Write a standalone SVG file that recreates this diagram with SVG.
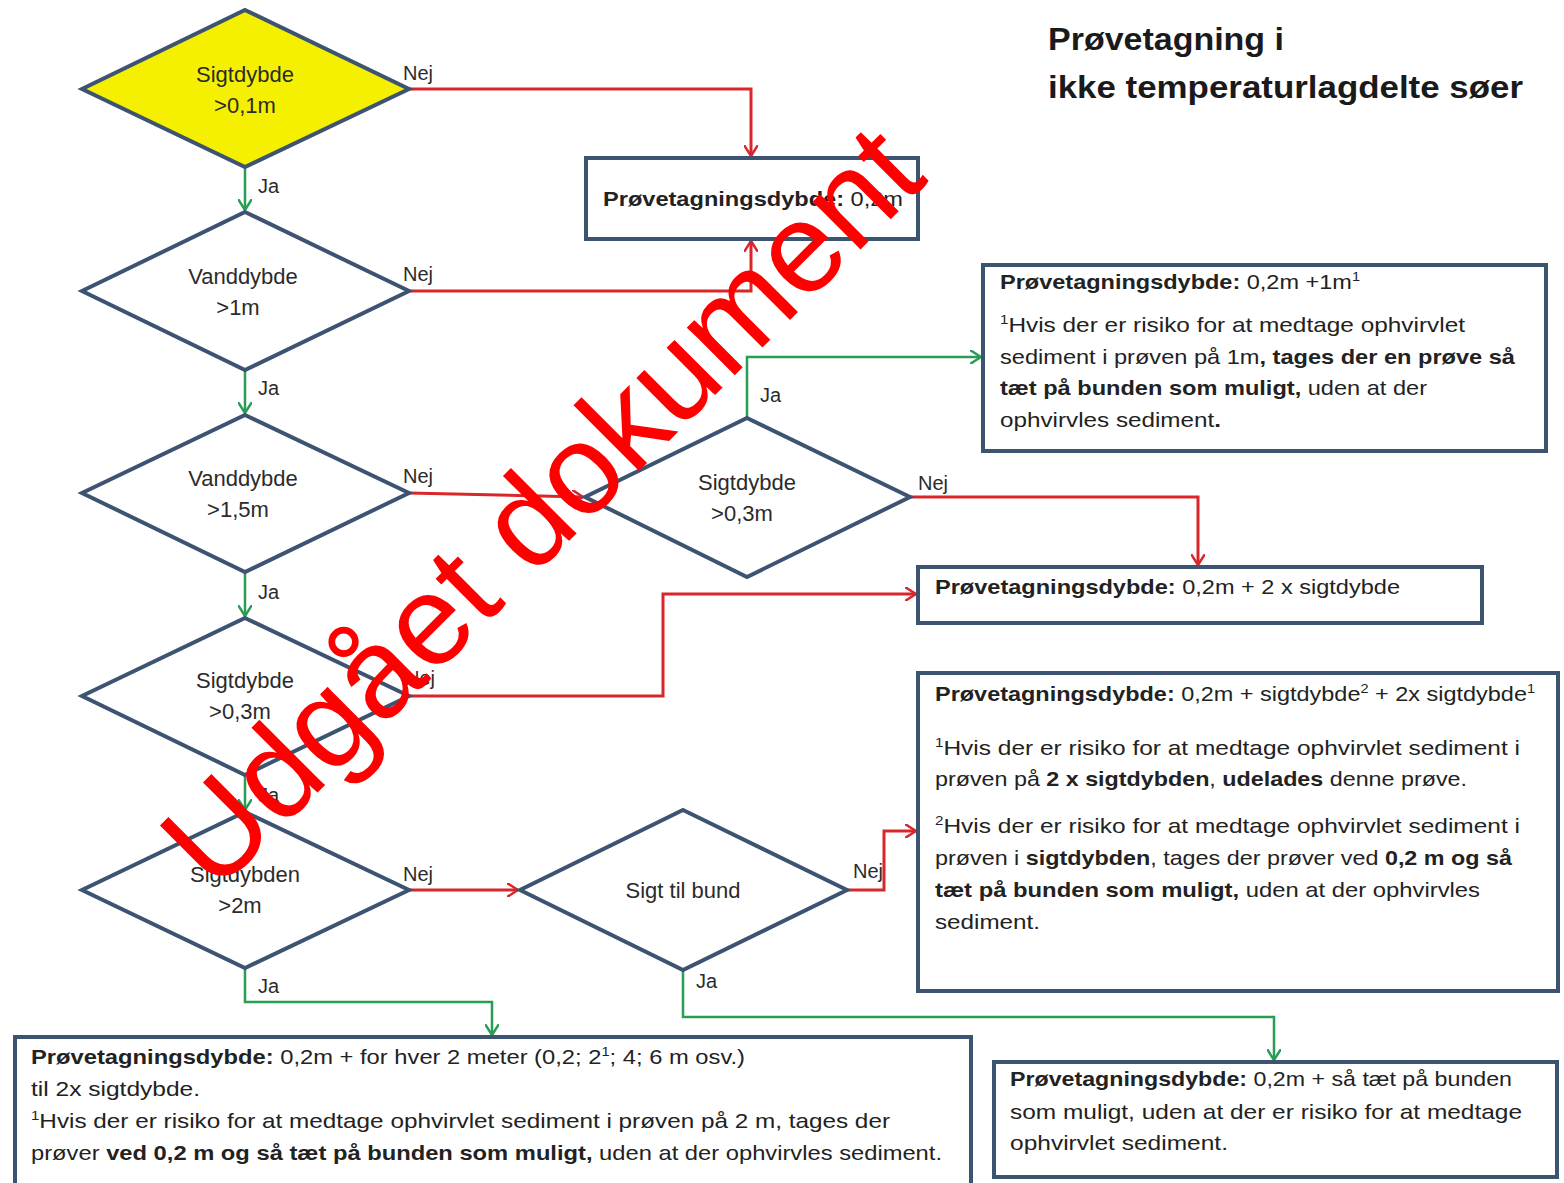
<svg xmlns="http://www.w3.org/2000/svg" width="1564" height="1183" viewBox="0 0 1564 1183">
<defs>
<marker id="ar" viewBox="0 0 12 14" refX="11" refY="7" markerWidth="12" markerHeight="14" markerUnits="userSpaceOnUse" orient="auto"><path d="M0,0 L11,7 L0,14" fill="none" stroke="#d9262b" stroke-width="2.5"/></marker>
<marker id="ag" viewBox="0 0 12 14" refX="11" refY="7" markerWidth="12" markerHeight="14" markerUnits="userSpaceOnUse" orient="auto"><path d="M0,0 L11,7 L0,14" fill="none" stroke="#2a9d55" stroke-width="2.5"/></marker>
</defs>
<style>
.dia{fill:#fff;stroke:#3d5372;stroke-width:4;stroke-linejoin:miter}
.box{fill:#fff;stroke:#3d5372;stroke-width:4}
.dt{font-family:"Liberation Sans",Arial,sans-serif;font-size:22px;fill:#2b2b2b;text-anchor:middle}
.lb{font-family:"Liberation Sans",Arial,sans-serif;font-size:20px;fill:#2b2b2b}
.bt{font-family:"Liberation Sans",Arial,sans-serif;font-size:21px;fill:#222}
.b{font-weight:bold}
.sup{font-size:13px}
.red{fill:none;stroke:#d9262b;stroke-width:3;marker-end:url(#ar)}
.grn{fill:none;stroke:#2a9d55;stroke-width:2.5;marker-end:url(#ag)}
.ttl{font-family:"Liberation Sans",Arial,sans-serif;font-size:31px;font-weight:bold;fill:#1a1a1a}
</style>
<rect width="1564" height="1183" fill="#fff"/>

<g id="title">
<text class="ttl" x="1048" y="50" textLength="236" lengthAdjust="spacingAndGlyphs">Prøvetagning i</text>
<text class="ttl" x="1048" y="98" textLength="475" lengthAdjust="spacingAndGlyphs">ikke temperaturlagdelte søer</text>
</g>

<g id="connectors">
<polyline class="red" points="409,89 751,89 751,156"/>
<polyline class="grn" points="245,167 245,210"/>
<polyline class="red" points="409,291 751,291 751,241"/>
<polyline class="grn" points="245,370 245,413"/>
<polyline class="grn" points="747,418 747,357 981,357"/>
<polyline class="red" points="409,493 583,497"/>
<polyline class="red" points="910,497 1198,497 1198,565"/>
<polyline class="grn" points="245,572 245,616"/>
<polyline class="red" points="409,696 663,696 663,594 916,594"/>
<polyline class="grn" points="245,775 245,810"/>
<polyline class="red" points="409,890 518,890"/>
<polyline class="red" points="847,890 884,890 884,831 916,831"/>
<polyline class="grn" points="245,968 245,1002 492,1002 492,1035"/>
<polyline class="grn" points="683,970 683,1017 1274,1017 1274,1060"/>
<text class="lb" x="403" y="80">Nej</text>
<text class="lb" x="258" y="193">Ja</text>
<text class="lb" x="403" y="281">Nej</text>
<text class="lb" x="258" y="395">Ja</text>
<text class="lb" x="760" y="402">Ja</text>
<text class="lb" x="403" y="483">Nej</text>
<text class="lb" x="918" y="490">Nej</text>
<text class="lb" x="258" y="599">Ja</text>
<text class="lb" x="405" y="685">Nej</text>
<text class="lb" x="258" y="802">Ja</text>
<text class="lb" x="403" y="881">Nej</text>
<text class="lb" x="853" y="878">Nej</text>
<text class="lb" x="258" y="993">Ja</text>
<text class="lb" x="696" y="988">Ja</text>
</g>

<g id="d1">
<polygon class="dia" points="245,10 409,89 245,167 82,89" style="fill:#f4f000"/>
<text class="dt" x="245" y="82">Sigtdybde</text>
<text class="dt" x="245" y="113">&gt;0,1m</text>
</g>
<g id="d2">
<polygon class="dia" points="245,212 409,291 245,370 82,291"/>
<text class="dt" x="243" y="284">Vanddybde</text>
<text class="dt" x="238" y="315">&gt;1m</text>
</g>
<g id="d3">
<polygon class="dia" points="245,415 409,493 245,572 82,493"/>
<text class="dt" x="243" y="486">Vanddybde</text>
<text class="dt" x="238" y="517">&gt;1,5m</text>
</g>
<g id="d4">
<polygon class="dia" points="245,618 409,696 245,775 82,696"/>
<text class="dt" x="245" y="688">Sigtdybde</text>
<text class="dt" x="240" y="719">&gt;0,3m</text>
</g>
<g id="d5">
<polygon class="dia" points="245,812 409,890 245,968 82,890"/>
<text class="dt" x="245" y="882">Sigtdybden</text>
<text class="dt" x="240" y="913">&gt;2m</text>
</g>
<g id="d6">
<polygon class="dia" points="747,418 910,497 747,577 585,497"/>
<text class="dt" x="747" y="490">Sigtdybde</text>
<text class="dt" x="742" y="521">&gt;0,3m</text>
</g>
<g id="d7">
<polygon class="dia" points="683,810 847,890 683,970 520,890"/>
<text class="dt" x="683" y="898">Sigt til bund</text>
</g>

<g id="boxA">
<rect class="box" x="586" y="158" width="332" height="81"/>
<text class="bt" x="603" y="206" textLength="300" lengthAdjust="spacingAndGlyphs"><tspan class="b">Prøvetagningsdybde:</tspan> 0,2m</text>
</g>

<g id="boxB">
<rect class="box" x="983" y="265" width="563" height="186"/>
<text class="bt" x="1000" y="289" textLength="360" lengthAdjust="spacingAndGlyphs"><tspan class="b">Prøvetagningsdybde:</tspan>  0,2m +1m<tspan class="sup" dy="-8">1</tspan></text>
<text class="bt" x="1000" y="332" textLength="465" lengthAdjust="spacingAndGlyphs"><tspan class="sup" dy="-8">1</tspan><tspan dy="8">Hvis der er risiko for at medtage ophvirvlet</tspan></text>
<text class="bt" x="1000" y="364" textLength="515" lengthAdjust="spacingAndGlyphs">sediment i prøven på 1m<tspan class="b">, tages der en prøve så</tspan></text>
<text class="bt" x="1000" y="395" textLength="427" lengthAdjust="spacingAndGlyphs"><tspan class="b">tæt på bunden som muligt,</tspan> uden at der</text>
<text class="bt" x="1000" y="427" textLength="221" lengthAdjust="spacingAndGlyphs">ophvirvles sediment<tspan class="b">.</tspan></text>
</g>

<g id="boxC">
<rect class="box" x="918" y="567" width="564" height="56"/>
<text class="bt" x="935" y="594" textLength="465" lengthAdjust="spacingAndGlyphs"><tspan class="b">Prøvetagningsdybde:</tspan>  0,2m + 2 x sigtdybde</text>
</g>

<g id="boxD">
<rect class="box" x="918" y="673" width="640" height="318"/>
<text class="bt" x="935" y="701" textLength="600" lengthAdjust="spacingAndGlyphs"><tspan class="b">Prøvetagningsdybde:</tspan> 0,2m + sigtdybde<tspan class="sup" dy="-8">2</tspan><tspan dy="8"> + 2x sigtdybde</tspan><tspan class="sup" dy="-8">1</tspan></text>
<text class="bt" x="935" y="755" textLength="585" lengthAdjust="spacingAndGlyphs"><tspan class="sup" dy="-8">1</tspan><tspan dy="8">Hvis der er risiko for at medtage ophvirvlet sediment i</tspan></text>
<text class="bt" x="935" y="786" textLength="532" lengthAdjust="spacingAndGlyphs">prøven på <tspan class="b">2 x sigtdybden</tspan>, <tspan class="b">udelades</tspan> denne prøve.</text>
<text class="bt" x="935" y="833" textLength="585" lengthAdjust="spacingAndGlyphs"><tspan class="sup" dy="-8">2</tspan><tspan dy="8">Hvis der er risiko for at medtage ophvirvlet sediment i</tspan></text>
<text class="bt" x="935" y="865" textLength="577" lengthAdjust="spacingAndGlyphs">prøven i <tspan class="b">sigtdybden</tspan>, tages der prøver ved <tspan class="b">0,2 m og så</tspan></text>
<text class="bt" x="935" y="897" textLength="545" lengthAdjust="spacingAndGlyphs"><tspan class="b">tæt på bunden som muligt,</tspan> uden at der ophvirvles</text>
<text class="bt" x="935" y="929" textLength="105" lengthAdjust="spacingAndGlyphs">sediment.</text>
</g>

<g id="boxE">
<rect class="box" x="15" y="1037" width="956" height="160"/>
<text class="bt" x="31" y="1064" textLength="714" lengthAdjust="spacingAndGlyphs"><tspan class="b">Prøvetagningsdybde:</tspan> 0,2m + for hver 2 meter (0,2; 2<tspan class="sup" dy="-8">1</tspan><tspan dy="8">; 4; 6 m osv.)</tspan></text>
<text class="bt" x="31" y="1096" textLength="169" lengthAdjust="spacingAndGlyphs">til 2x sigtdybde.</text>
<text class="bt" x="31" y="1128" textLength="859" lengthAdjust="spacingAndGlyphs"><tspan class="sup" dy="-8">1</tspan><tspan dy="8">Hvis der er risiko for at medtage ophvirvlet sediment i prøven på 2 m, tages der</tspan></text>
<text class="bt" x="31" y="1160" textLength="911" lengthAdjust="spacingAndGlyphs">prøver <tspan class="b">ved 0,2 m og så tæt på bunden som muligt,</tspan> uden at der ophvirvles sediment.</text>
</g>

<g id="boxF">
<rect class="box" x="994" y="1062" width="563" height="115"/>
<text class="bt" x="1010" y="1086" textLength="502" lengthAdjust="spacingAndGlyphs"><tspan class="b">Prøvetagningsdybde:</tspan> 0,2m + så tæt på bunden</text>
<text class="bt" x="1010" y="1119" textLength="512" lengthAdjust="spacingAndGlyphs">som muligt, uden at der er risiko for at medtage</text>
<text class="bt" x="1010" y="1150" textLength="218" lengthAdjust="spacingAndGlyphs">ophvirvlet sediment.</text>
</g>

<g id="watermark">
<text x="0" y="0" transform="translate(540,505) rotate(-45)" font-family="Liberation Sans, Arial, sans-serif" font-size="128" fill="#ff0000" text-anchor="middle" dy="46">Udgået dokument</text>
</g>
</svg>
